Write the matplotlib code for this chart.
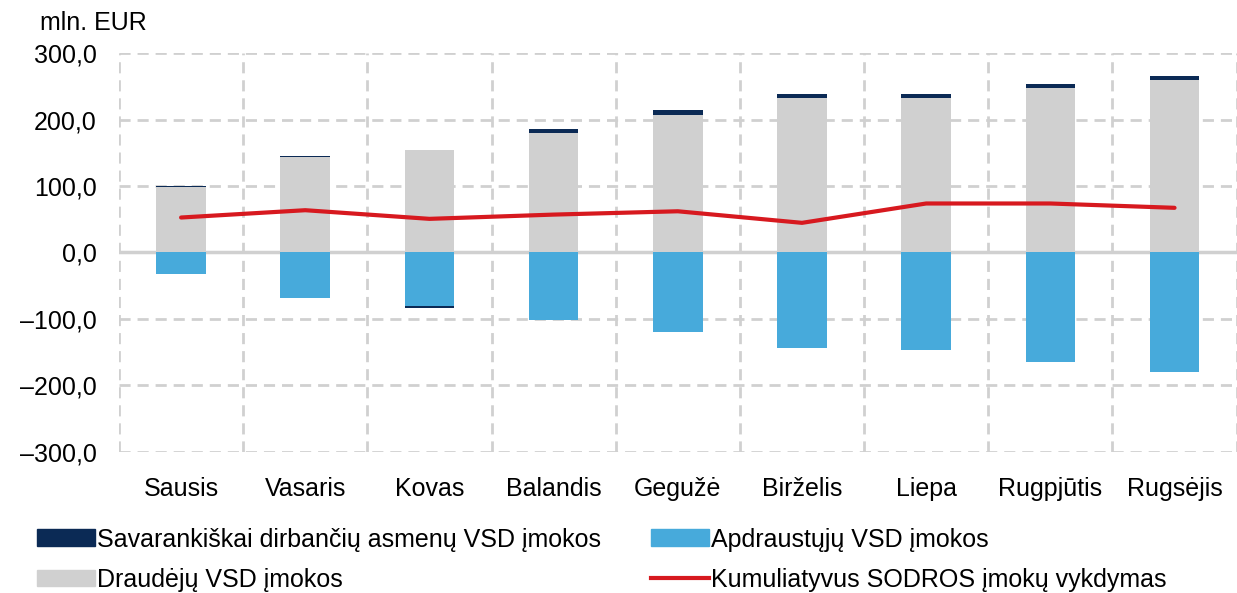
import numpy as np
import matplotlib
matplotlib.use('Agg')
import matplotlib.pyplot as plt
from matplotlib.patches import Patch
from matplotlib.lines import Line2D
from matplotlib.ticker import FuncFormatter

plt.rcParams['font.family'] = ['Liberation Sans', 'DejaVu Sans']

# Data (mln. EUR)
months = ['Sausis', 'Vasaris', 'Kovas', 'Balandis', 'Gegužė',
          'Birželis', 'Liepa', 'Rugpjūtis', 'Rugsėjis']
draudeju = [99, 144, 154, 180, 207, 232, 232, 247, 259]
savarankiskai = [1, 1, -2.5, 6, 8, 6, 6, 6, 6]
apdraustuju = [-33, -69, -81, -102, -119, -143, -146, -164, -179]
vykdymas = [52.6, 63.6, 50.6, 57, 62, 44.6, 73.7, 73.7, 67.2]

c_dark = '#0B2A55'
c_blue = '#47AADB'
c_gray = '#D0D0D0'
c_red = '#D7191F'
c_grid = '#D0D0D0'

fs = 18

fig = plt.figure(figsize=(12.37, 5.93), dpi=100)
ax = fig.add_axes([0.0962, 0.2378, 0.9035, 0.6728])

x = np.arange(len(months))
w = 0.4

# grid first
for v in range(-300, 301, 100):
    if v != 0:
        ax.axhline(v, color=c_grid, lw=2, ls=(0, (4, 2.5)), zorder=0)
for b in np.arange(-0.5, len(months), 1.0):
    ax.axvline(b, color=c_grid, lw=2, ls=(0, (4, 2.5)), zorder=0)

ax.bar(x, draudeju, w, color=c_gray, zorder=2)
ax.bar(x, apdraustuju, w, color=c_blue, zorder=2)
pos_base = [d if s >= 0 else a for d, s, a in zip(draudeju, savarankiskai, apdraustuju)]
ax.bar(x, savarankiskai, w, bottom=pos_base, color=c_dark, zorder=2)
ax.axhline(0, color=c_grid, lw=2.5, zorder=1)
ax.plot(x, vykdymas, color=c_red, lw=3, zorder=3, solid_capstyle='round')

ax.set_xlim(-0.5, len(months) - 0.5)
ax.set_ylim(-300, 300)
ax.set_yticks(range(-300, 301, 100))
ax.yaxis.set_major_formatter(FuncFormatter(
    lambda v, p: f'{v:.1f}'.replace('.', ',').replace('-', '\u2013')))
ax.set_xticks(x)
ax.set_xticklabels(months)
ax.tick_params(axis='both', length=0, labelsize=fs, colors='black')
ax.tick_params(axis='y', pad=16)
ax.tick_params(axis='x', pad=18)
for s in ax.spines.values():
    s.set_visible(False)

fig.text(0.032, 0.962, 'mln. EUR', fontsize=fs, ha='left', va='center')

handles = [
    Patch(color=c_dark),
    Patch(color=c_gray),
    Patch(color=c_blue),
    Line2D([0], [0], color=c_red, lw=3),
]
labels = [
    'Savarankiškai dirbančių asmenų VSD įmokos',
    'Draudėjų VSD įmokos',
    'Apdraustųjų VSD įmokos',
    'Kumuliatyvus SODROS įmokų vykdymas',
]
fig.legend(handles, labels, ncol=2, loc='lower left', bbox_to_anchor=(0.012, -0.036),
           frameon=False, fontsize=fs, handlelength=2.3, handleheight=0.65,
           handletextpad=0.1, columnspacing=2.0, labelspacing=0.65)

fig.savefig('out.png', dpi=100)
